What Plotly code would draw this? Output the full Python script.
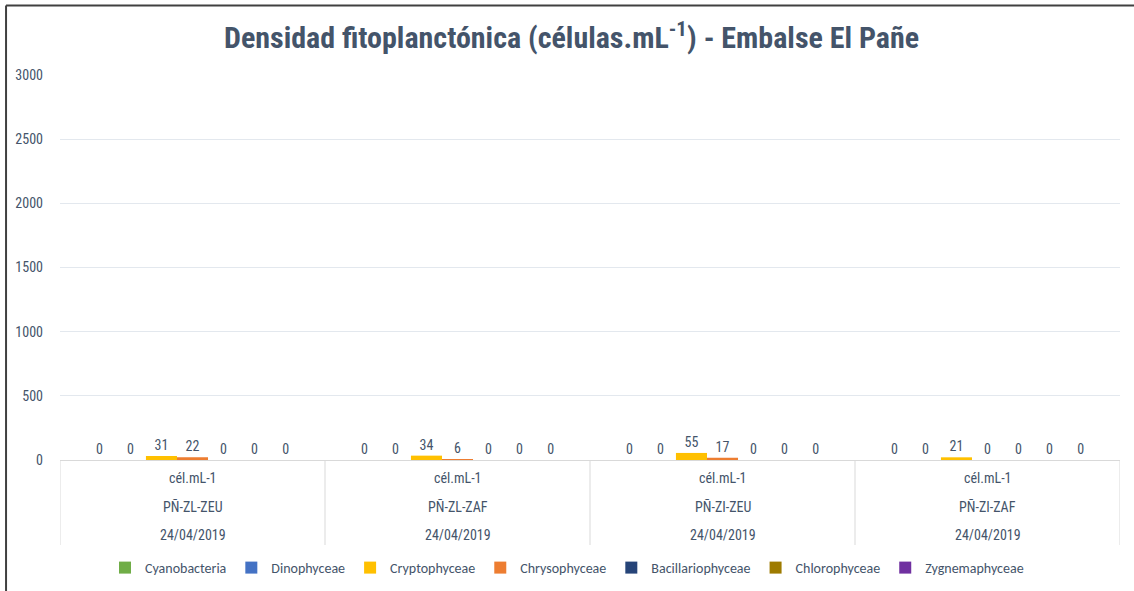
import plotly.graph_objects as go

stations = ["PÑ-ZL-ZEU", "PÑ-ZL-ZAF", "PÑ-ZI-ZEU", "PÑ-ZI-ZAF"]
dates = ["24/04/2019", "24/04/2019", "24/04/2019", "24/04/2019"]
unit = "cél.mL-1"
series_names = ["Cyanobacteria", "Dinophyceae", "Cryptophyceae", "Chrysophyceae",
                "Bacillariophyceae", "Chlorophyceae", "Zygnemaphyceae"]
cyanobacteria = [0, 0, 0, 0]
dinophyceae = [0, 0, 0, 0]
cryptophyceae = [31, 34, 55, 21]
chrysophyceae = [22, 6, 17, 0]
bacillariophyceae = [0, 0, 0, 0]
chlorophyceae = [0, 0, 0, 0]
zygnemaphyceae = [0, 0, 0, 0]
series_values = [cyanobacteria, dinophyceae, cryptophyceae, chrysophyceae,
                 bacillariophyceae, chlorophyceae, zygnemaphyceae]
colors = ["#70AD47", "#4472C4", "#FFC000", "#ED7D31", "#264478", "#9E7B00", "#7030A0"]
y_ticks = [0, 500, 1000, 1500, 2000, 2500, 3000]

NARROW = "Liberation Sans Narrow, Arial Narrow, Roboto Condensed, Arial, sans-serif"
xs = list(range(len(stations)))

fig = go.Figure()
for name, vals, col in zip(series_names, series_values, colors):
    fig.add_trace(go.Bar(
        x=xs, y=vals, name=name, marker=dict(color=col, line=dict(width=0)),
        text=[str(v) for v in vals], textposition="outside", cliponaxis=False,
        textfont=dict(family=NARROW, size=14, color="#44546A"),
    ))

shapes = []
# category separators
for i in range(len(stations) + 1):
    shapes.append(dict(type="line", xref="x", yref="paper", x0=i - 0.5, x1=i - 0.5,
                       y0=0, y1=-0.2208, line=dict(color="#D9D9D9", width=1)))
# outer frame (top and left)
shapes.append(dict(type="line", xref="paper", yref="paper", x0=-0.0509, x1=1.02,
                   y0=1.1805, y1=1.1805, line=dict(color="#404040", width=2)))
shapes.append(dict(type="line", xref="paper", yref="paper", x0=-0.0509, x1=-0.0509,
                   y0=1.1805, y1=-0.36, line=dict(color="#404040", width=2)))

annotations = []
for i in xs:
    for txt, yy in [(unit, -0.0468), (stations[i], -0.1195), (dates[i], -0.1948)]:
        annotations.append(dict(x=i, y=yy, xref="x", yref="paper", text=txt,
                                showarrow=False, yanchor="middle",
                                font=dict(family=NARROW, size=14, color="#44546A")))

fig.update_layout(
    width=1134, height=591,
    margin=dict(l=60, r=14, t=75, b=131, autoexpand=False),
    paper_bgcolor="white", plot_bgcolor="white",
    barmode="group", bargap=0.18, bargroupgap=0,
    title=dict(text="Densidad fitoplanctónica (células.mL<sup>-1</sup>) - Embalse El Pañe",
               x=0.504, xanchor="center", y=0.936, yanchor="middle",
               font=dict(family=NARROW, size=30, color="#44546A", weight="bold")),
    xaxis=dict(range=[-0.5, 3.5], showticklabels=False, showgrid=False, zeroline=False,
               showline=True, linecolor="#D9D9D9", linewidth=1, ticks=""),
    yaxis=dict(range=[0, 3000], tickvals=y_ticks, showgrid=True, gridcolor="#E3E8EE",
               zeroline=False, showline=False, ticks="", ticklabelstandoff=16,
               tickfont=dict(family=NARROW, size=14, color="#44546A")),
    legend=dict(orientation="h", x=0.5, xanchor="center", xref="container",
                y=1 - 568 / 591, yanchor="middle", yref="container",
                font=dict(family="Carlito, Calibri, Lato, sans-serif", size=14, color="#44546A"),
                itemwidth=30, tracegroupgap=0),
    shapes=shapes, annotations=annotations,
)

fig.write_html("out.html", config={"displayModeBar": False},
               post_script="document.body.style.margin='0';document.body.style.overflow='hidden';")
